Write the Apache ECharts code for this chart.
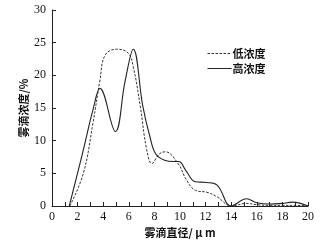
<!DOCTYPE html>
<html>
<head>
<meta charset="utf-8">
<script src="https://cdn.jsdelivr.net/npm/echarts@6/dist/echarts.min.js"></script>
<style>
html, body { margin: 0; padding: 0; background: #fff; }
#main { width: 335px; height: 246px; }
</style>
</head>
<body>
<div id="main"></div>
<script>
// 低浓度 (dashed)
var lowX = [1.4, 2.45, 3.2, 3.75, 4.15, 5.05, 5.95, 6.35, 6.9, 7.4, 7.8, 8.4, 8.85, 9.85, 10.5, 11.2, 12.1, 12.9, 14, 15.2, 16, 17, 18, 19, 20];
var lowY = [0, 5, 12.7, 19.3, 23.1, 24, 23.4, 21.3, 15.2, 8.6, 6.5, 8, 8.3, 6.5, 4, 2.4, 2.1, 1.4, 0, 0.4, 0.2, 0.1, 0.1, 0.1, 0];
// 高浓度 (solid)
var highX = [1.35, 2.45, 3.2, 3.75, 4.95, 5.7, 6.35, 7.1, 7.65, 8.1, 8.8, 9.5, 9.9, 10.5, 11.2, 12.1, 12.9, 14, 15.2, 16, 17, 18, 18.8, 20];
var highY = [0, 8.6, 14.7, 18, 11.4, 19, 24, 15.2, 10.6, 8, 7, 6.8, 6.8, 5.3, 3.7, 3.6, 3.2, 0, 1.1, 0.5, 0.3, 0.4, 0.6, 0];

function pairs(xs, ys) {
	var out = [];
	for (var i = 0; i < xs.length; i++) {
		out.push([xs[i], ys[i]]);
	}
	return out;
}

var voChart = echarts.init(document.getElementById("main"));
var serif = "'Liberation Serif', 'DejaVu Serif', serif";
var cjk = "'Noto Sans CJK SC', sans-serif";

var voOption = {
	animation: false,
	grid: { left: 52, right: 27, top: 10, bottom: 40 },
	legend: {
		orient: 'vertical',
		left: 202,
		top: 43,
		itemWidth: 24,
		itemHeight: 8,
		itemGap: 4,
		itemStyle: { opacity: 0 },
		lineStyle: { width: 1 },
		textStyle: { fontFamily: cjk, fontSize: 11, color: '#111', fontWeight: 'bold', padding: [0, 0, 0, -4] },
		data: ['低浓度', '高浓度']
	},
	xAxis: {
		type: 'value',
		min: 0,
		max: 20,
		interval: 2,
		name: '雾滴直径/ μ m',
		nameLocation: 'middle',
		nameGap: 21,
		nameMoveOverlap: false,
		nameTextStyle: { fontFamily: cjk, fontSize: 11, color: '#111', fontWeight: 'bold' },
		axisLine: { lineStyle: { color: '#222', width: 1 } },
		axisTick: { inside: true, length: 4, lineStyle: { color: '#222' } },
		minorTick: { show: true, splitNumber: 2, length: 4, lineStyle: { color: '#222' } },
		axisLabel: { fontFamily: serif, fontSize: 12, color: '#111', margin: 5 },
		splitLine: { show: false }
	},
	yAxis: {
		type: 'value',
		min: 0,
		max: 30,
		interval: 5,
		name: '雾滴浓度/%',
		nameLocation: 'middle',
		nameRotate: 90,
		nameGap: 23,
		nameMoveOverlap: false,
		nameTextStyle: { fontFamily: cjk, fontSize: 11, color: '#111', fontWeight: 'bold' },
		axisLine: { show: true, lineStyle: { color: '#222', width: 1 } },
		axisTick: { show: true, inside: true, length: 4, lineStyle: { color: '#222' } },
		axisLabel: { fontFamily: serif, fontSize: 12, color: '#111', margin: 6 },
		splitLine: { show: false }
	},
	series: [{
		name: '低浓度',
		type: 'line',
		smooth: 0.4,
		symbol: 'none',
		data: pairs(lowX, lowY),
		lineStyle: { color: '#333', width: 1, type: [2.5, 1.5] },
		itemStyle: { color: '#333' }
	}, {
		name: '高浓度',
		type: 'line',
		smooth: 0.4,
		symbol: 'none',
		data: pairs(highX, highY),
		lineStyle: { color: '#222', width: 1.1 },
		itemStyle: { color: '#222' }
	}]
};

voChart.setOption(voOption);
</script>
</body>
</html>
